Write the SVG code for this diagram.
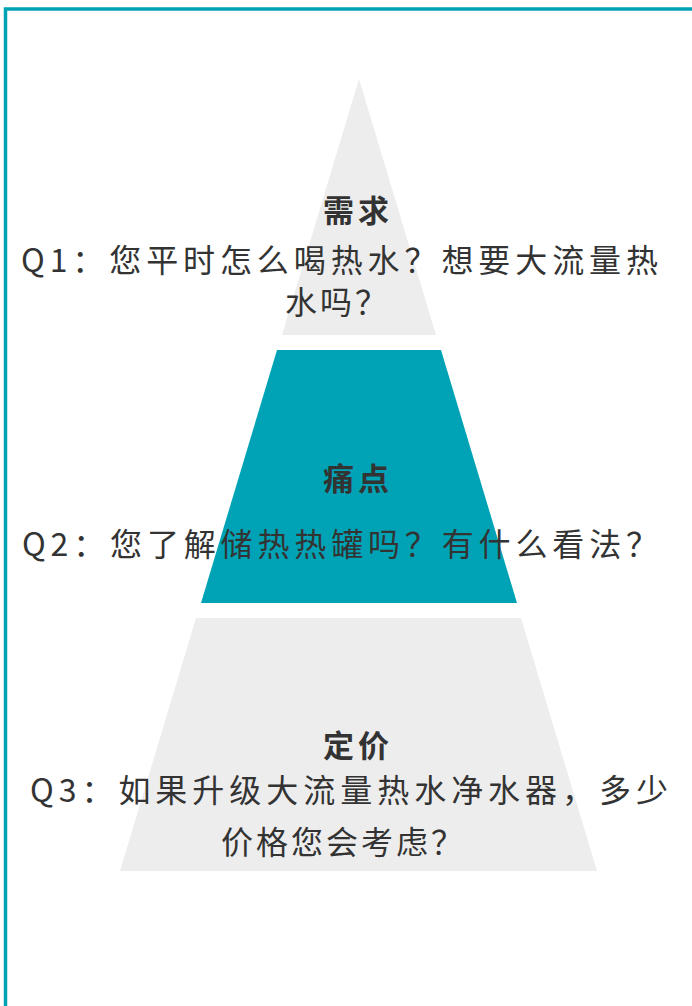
<svg xmlns="http://www.w3.org/2000/svg" width="692" height="1006" viewBox="0 0 692 1006">
<style>
.grey{fill:#EDEDED}
.teal{fill:#00A3B5}
.t{font-family:"Noto Sans CJK SC","Noto Sans",sans-serif;fill:#333333}
.h{font-size:31px;font-weight:bold;text-anchor:middle;letter-spacing:4px}
.q{font-size:32px}
.c{letter-spacing:3px}
</style>
<rect x="5.5" y="9" width="700" height="1010" fill="#FFFFFF" stroke="#00A3B5" stroke-width="3.5"/>
<g id="level1">
<polygon class="grey" points="359,79 436,335 282,335"/>
<text class="t h" x="358" y="222">需求</text>
<text class="t q" x="21" y="272" textLength="637" lengthAdjust="spacing">Q1：您平时怎么喝热水？想要大流量热</text>
<text class="t q c" x="285" y="314">水吗？</text>
</g>
<g id="level2">
<polygon class="teal" points="277,350 441,350 517,603 201,603"/>
<text class="t h" x="358" y="490">痛点</text>
<text class="t q" x="22" y="556" textLength="636" lengthAdjust="spacing">Q2：您了解储热热罐吗？有什么看法？</text>
</g>
<g id="level3">
<polygon class="grey" points="196,618 521,618 597,871 120,871"/>
<text class="t h" x="358" y="757">定价</text>
<text class="t q" x="30" y="802" textLength="638" lengthAdjust="spacing">Q3：如果升级大流量热水净水器，多少</text>
<text class="t q c" x="221" y="854">价格您会考虑？</text>
</g>
</svg>
